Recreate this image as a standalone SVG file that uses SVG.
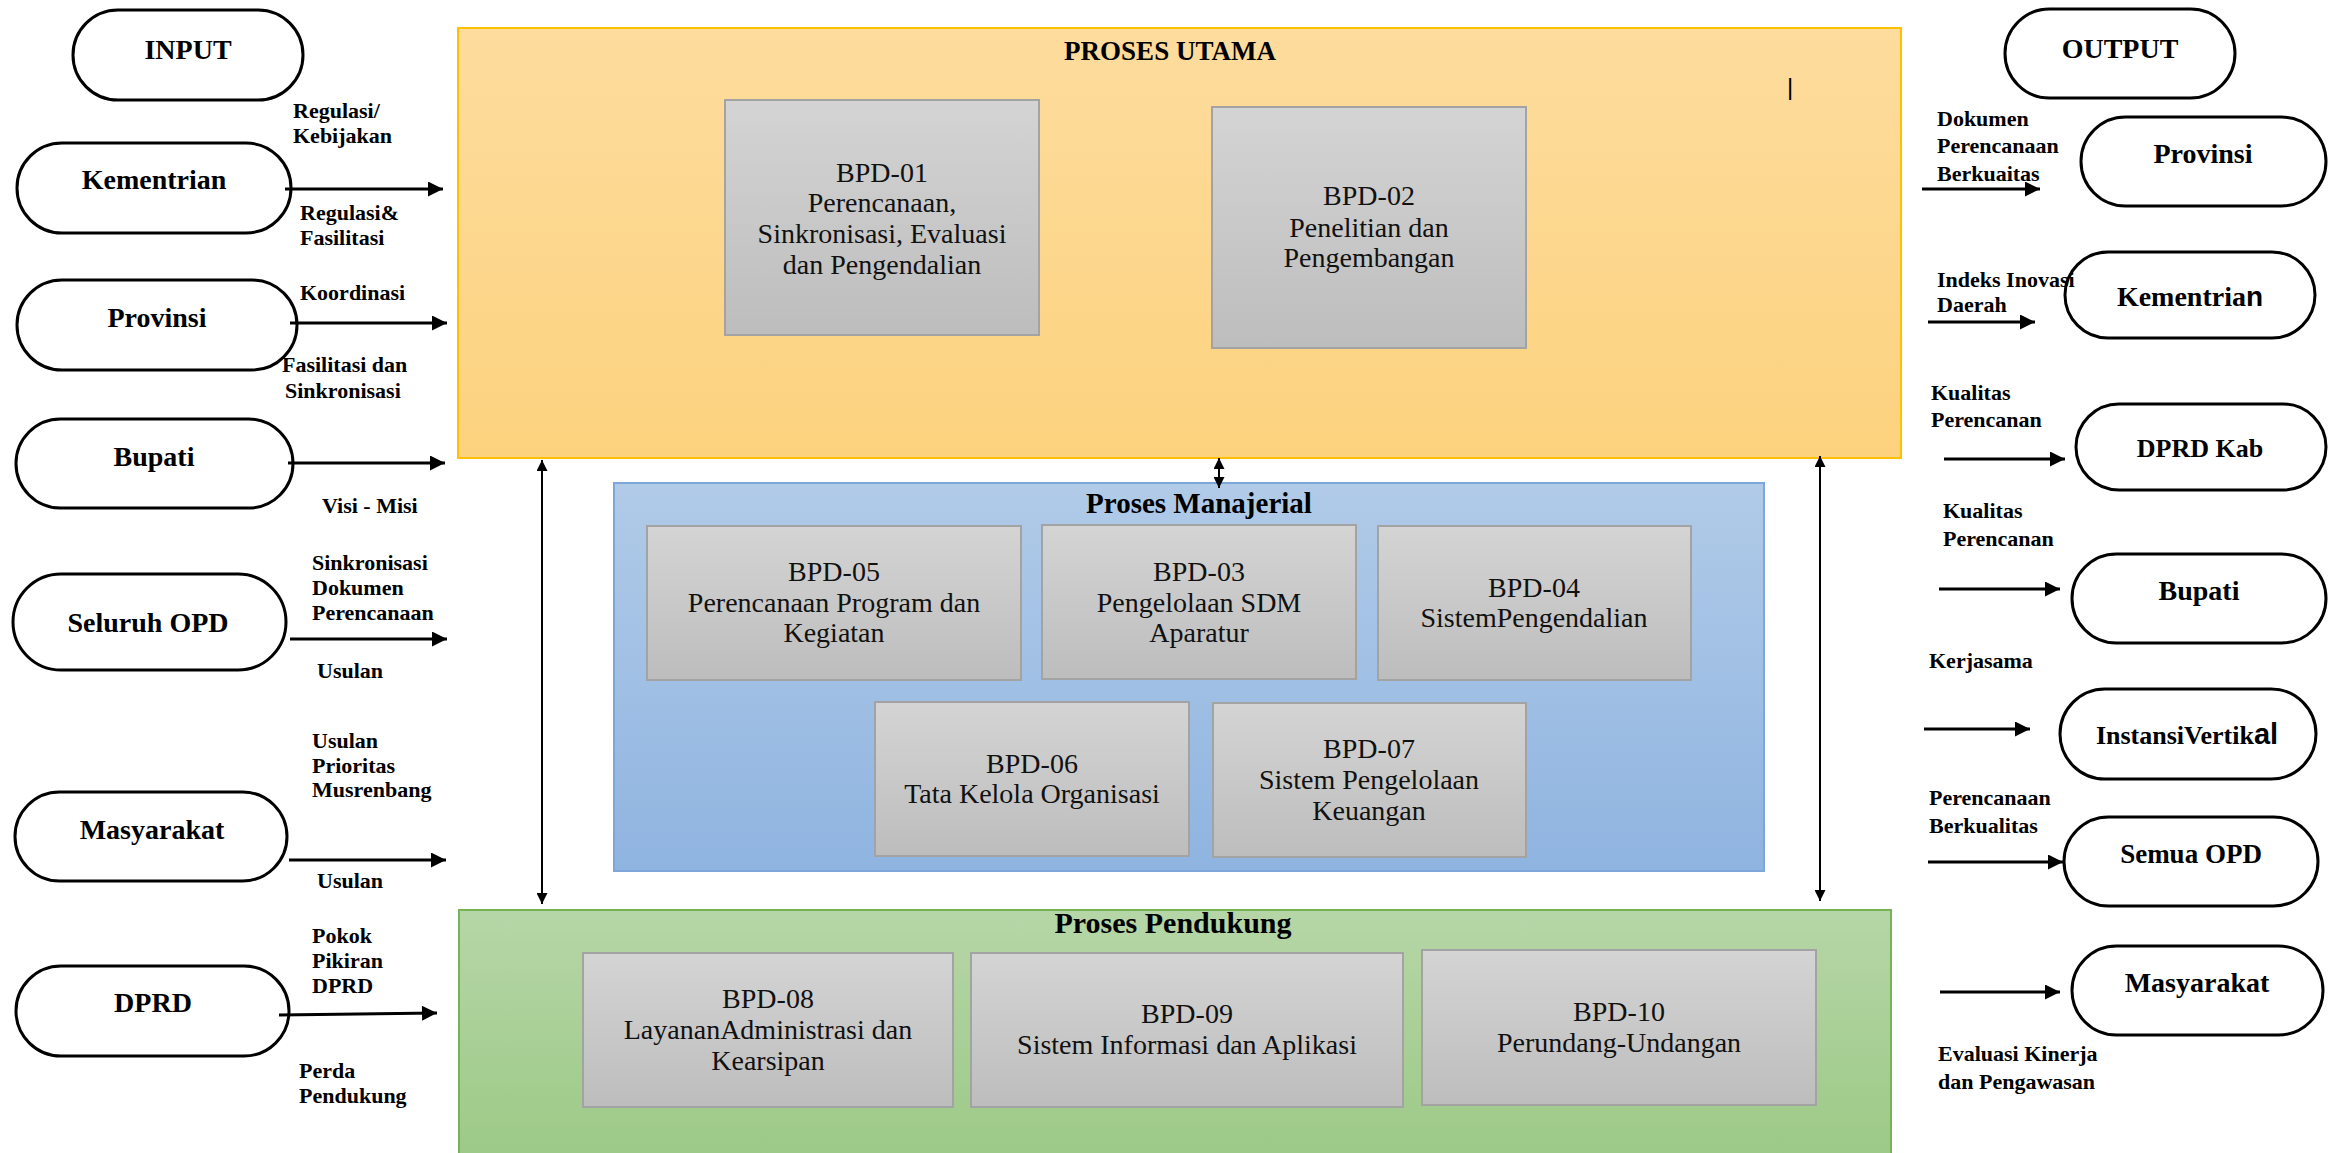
<svg xmlns="http://www.w3.org/2000/svg" width="2329" height="1153" viewBox="0 0 2329 1153">
  <style>
    .pill { fill: #ffffff; stroke: #000000; stroke-width: 3; }
    .pt { font-family: "Liberation Serif", serif; font-weight: bold; font-size: 28px; fill: #000; text-anchor: middle; }
    .lbl { font-family: "Liberation Serif", serif; font-weight: bold; font-size: 22px; fill: #000; }
    .bt { font-family: "Liberation Serif", serif; font-size: 28px; fill: #111; text-anchor: middle; }
    .title { font-family: "Liberation Serif", serif; font-weight: bold; font-size: 29px; fill: #000; text-anchor: middle; }
    .box { fill: url(#gBox); stroke: #a3a3a3; stroke-width: 2; }
    .flow { stroke: #000; stroke-width: 3; fill: none; marker-end: url(#head); }
    .dbl { stroke: #000; stroke-width: 2; fill: none; marker-end: url(#headS); marker-start: url(#headS); }
  </style>
  <defs>
    <linearGradient id="gYellow" x1="0" y1="0" x2="0" y2="1">
      <stop offset="0" stop-color="#fddc9d"/>
      <stop offset="1" stop-color="#fcd27e"/>
    </linearGradient>
    <linearGradient id="gBlue" x1="0" y1="0" x2="0" y2="1">
      <stop offset="0" stop-color="#b1cbe8"/>
      <stop offset="1" stop-color="#8fb4e0"/>
    </linearGradient>
    <linearGradient id="gGreen" x1="0" y1="0" x2="0" y2="1">
      <stop offset="0" stop-color="#b6d6a7"/>
      <stop offset="1" stop-color="#9bc985"/>
    </linearGradient>
    <linearGradient id="gBox" x1="0" y1="0" x2="0" y2="1">
      <stop offset="0" stop-color="#d4d4d4"/>
      <stop offset="1" stop-color="#bdbdbd"/>
    </linearGradient>
    <marker id="head" viewBox="0 0 10 10" refX="10" refY="5" markerUnits="userSpaceOnUse" markerWidth="17" markerHeight="15" orient="auto">
      <path d="M0,0 L10,5 L0,10 z" fill="#000"/>
    </marker>
    <marker id="headS" viewBox="0 0 10 10" refX="10" refY="5" markerUnits="userSpaceOnUse" markerWidth="13" markerHeight="11" orient="auto-start-reverse">
      <path d="M0,0 L10,5 L0,10 z" fill="#000"/>
    </marker>
  </defs>

  <!-- process containers -->
  <g id="proses-utama">
    <rect x="458" y="28" width="1443" height="430" fill="url(#gYellow)" stroke="#ffc000" stroke-width="2"/>
    <text class="title" x="1170" y="60" style="font-size:27px">PROSES UTAMA</text>
    <text x="1790" y="95" style="font-family:'Liberation Sans',sans-serif;font-size:24px;fill:#000" text-anchor="middle">|</text>
  </g>
  <g id="proses-manajerial">
    <rect x="614" y="483" width="1150" height="388" fill="url(#gBlue)" stroke="#7ea6d8" stroke-width="2"/>
    <text class="title" x="1199" y="513">Proses Manajerial</text>
  </g>
  <g id="proses-pendukung">
    <rect x="459" y="910" width="1432" height="260" fill="url(#gGreen)" stroke="#77b255" stroke-width="2"/>
    <text class="title" x="1173" y="933" style="font-size:30px">Proses Pendukung</text>
  </g>

  <!-- BPD process boxes -->
  <g id="bpd-01">
    <rect class="box" x="725" y="100" width="314" height="235"/>
    <text class="bt" x="882" y="182">BPD-01</text>
    <text class="bt" x="882" y="212">Perencanaan,</text>
    <text class="bt" x="882" y="243">Sinkronisasi, Evaluasi</text>
    <text class="bt" x="882" y="274">dan Pengendalian</text>
  </g>
  <g id="bpd-02">
    <rect class="box" x="1212" y="107" width="314" height="241"/>
    <text class="bt" x="1369" y="205">BPD-02</text>
    <text class="bt" x="1369" y="237">Penelitian dan</text>
    <text class="bt" x="1369" y="267">Pengembangan</text>
  </g>
  <g id="bpd-05">
    <rect class="box" x="647" y="526" width="374" height="154"/>
    <text class="bt" x="834" y="581">BPD-05</text>
    <text class="bt" x="834" y="612">Perencanaan Program dan</text>
    <text class="bt" x="834" y="642">Kegiatan</text>
  </g>
  <g id="bpd-03">
    <rect class="box" x="1042" y="525" width="314" height="154"/>
    <text class="bt" x="1199" y="581">BPD-03</text>
    <text class="bt" x="1199" y="612">Pengelolaan SDM</text>
    <text class="bt" x="1199" y="642">Aparatur</text>
  </g>
  <g id="bpd-04">
    <rect class="box" x="1378" y="526" width="313" height="154"/>
    <text class="bt" x="1534" y="597">BPD-04</text>
    <text class="bt" x="1534" y="627">SistemPengendalian</text>
  </g>
  <g id="bpd-06">
    <rect class="box" x="875" y="702" width="314" height="154"/>
    <text class="bt" x="1032" y="773">BPD-06</text>
    <text class="bt" x="1032" y="803">Tata Kelola Organisasi</text>
  </g>
  <g id="bpd-07">
    <rect class="box" x="1213" y="703" width="313" height="154"/>
    <text class="bt" x="1369" y="758">BPD-07</text>
    <text class="bt" x="1369" y="789">Sistem Pengelolaan</text>
    <text class="bt" x="1369" y="820">Keuangan</text>
  </g>
  <g id="bpd-08">
    <rect class="box" x="583" y="953" width="370" height="154"/>
    <text class="bt" x="768" y="1008">BPD-08</text>
    <text class="bt" x="768" y="1039">LayananAdministrasi dan</text>
    <text class="bt" x="768" y="1070">Kearsipan</text>
  </g>
  <g id="bpd-09">
    <rect class="box" x="971" y="953" width="432" height="154"/>
    <text class="bt" x="1187" y="1023">BPD-09</text>
    <text class="bt" x="1187" y="1054">Sistem Informasi dan Aplikasi</text>
  </g>
  <g id="bpd-10">
    <rect class="box" x="1422" y="950" width="394" height="155"/>
    <text class="bt" x="1619" y="1021">BPD-10</text>
    <text class="bt" x="1619" y="1052">Perundang-Undangan</text>
  </g>

  <!-- input side -->
  <g id="in-header">
    <rect class="pill" x="73" y="10" width="230" height="90" rx="45"/>
    <text class="pt" x="188" y="59">INPUT</text>
  </g>
  <g id="in-kementrian">
    <rect class="pill" x="17" y="143" width="274" height="90" rx="45"/>
    <text class="pt" x="154" y="189">Kementrian</text>
  </g>
  <g id="in-provinsi">
    <rect class="pill" x="17" y="280" width="280" height="90" rx="45"/>
    <text class="pt" x="157" y="327">Provinsi</text>
  </g>
  <g id="in-bupati">
    <rect class="pill" x="16" y="419" width="277" height="89" rx="44.5"/>
    <text class="pt" x="154" y="466">Bupati</text>
  </g>
  <g id="in-opd">
    <rect class="pill" x="13" y="574" width="273" height="96" rx="48"/>
    <text class="pt" x="148" y="632">Seluruh OPD</text>
  </g>
  <g id="in-masyarakat">
    <rect class="pill" x="15" y="792" width="272" height="89" rx="44.5"/>
    <text class="pt" x="152" y="839">Masyarakat</text>
  </g>
  <g id="in-dprd">
    <rect class="pill" x="16" y="966" width="273" height="90" rx="45"/>
    <text class="pt" x="153" y="1012">DPRD</text>
  </g>

  <!-- output side -->
  <g id="out-header">
    <rect class="pill" x="2005" y="9" width="230" height="89" rx="44.5"/>
    <text class="pt" x="2120" y="58">OUTPUT</text>
  </g>
  <g id="out-provinsi">
    <rect class="pill" x="2081" y="117" width="245" height="89" rx="44.5"/>
    <text class="pt" x="2203" y="163">Provinsi</text>
  </g>
  <g id="out-kementrian">
    <rect class="pill" x="2065" y="252" width="250" height="86" rx="43"/>
    <text class="pt" x="2190" y="306">Kementria<tspan style="font-family:'Liberation Sans',sans-serif">n</tspan></text>
  </g>
  <g id="out-dprd-kab">
    <rect class="pill" x="2076" y="404" width="250" height="86" rx="43"/>
    <text class="pt" x="2200" y="457" style="font-size:26px">DPRD Kab</text>
  </g>
  <g id="out-bupati">
    <rect class="pill" x="2072" y="554" width="254" height="89" rx="44.5"/>
    <text class="pt" x="2199" y="600">Bupati</text>
  </g>
  <g id="out-instansi">
    <rect class="pill" x="2060" y="689" width="256" height="90" rx="45"/>
    <text class="pt" x="2187" y="744" style="font-size:26px">InstansiVertik<tspan style="font-family:'Liberation Sans',sans-serif;font-size:29px">al</tspan></text>
  </g>
  <g id="out-opd">
    <rect class="pill" x="2064" y="817" width="254" height="89" rx="44.5"/>
    <text class="pt" x="2191" y="863" style="font-size:27px">Semua OPD</text>
  </g>
  <g id="out-masyarakat">
    <rect class="pill" x="2072" y="946" width="251" height="89" rx="44.5"/>
    <text class="pt" x="2197" y="992">Masyarakat</text>
  </g>

  <!-- connectors -->
  <g id="connectors">
    <line class="flow" x1="285" y1="189" x2="443" y2="189"/>
    <line class="flow" x1="290" y1="323" x2="447" y2="323"/>
    <line class="flow" x1="288" y1="463" x2="445" y2="463"/>
    <line class="flow" x1="290" y1="639" x2="447" y2="639"/>
    <line class="flow" x1="289" y1="860" x2="446" y2="860"/>
    <line class="flow" x1="279" y1="1015" x2="437" y2="1013"/>

    <line class="flow" x1="1922" y1="189" x2="2040" y2="189"/>
    <line class="flow" x1="1928" y1="322" x2="2035" y2="322"/>
    <line class="flow" x1="1944" y1="459" x2="2065" y2="459"/>
    <line class="flow" x1="1939" y1="589" x2="2060" y2="589"/>
    <line class="flow" x1="1924" y1="729" x2="2030" y2="729"/>
    <line class="flow" x1="1928" y1="862" x2="2063" y2="862"/>
    <line class="flow" x1="1940" y1="992" x2="2060" y2="992"/>

    <line class="dbl" x1="542" y1="460" x2="542" y2="904"/>
    <line class="dbl" x1="1219" y1="458" x2="1219" y2="488"/>
    <line class="dbl" x1="1820" y1="456" x2="1820" y2="901"/>
  </g>

  <!-- connector labels -->
  <g id="labels">
    <text class="lbl" x="293" y="118">Regulasi/</text>
    <text class="lbl" x="293" y="143">Kebijakan</text>
    <text class="lbl" x="300" y="220">Regulasi&amp;</text>
    <text class="lbl" x="300" y="245">Fasilitasi</text>
    <text class="lbl" x="300" y="300">Koordinasi</text>
    <text class="lbl" x="282" y="372">Fasilitasi dan</text>
    <text class="lbl" x="285" y="398">Sinkronisasi</text>
    <text class="lbl" x="322" y="513">Visi - Misi</text>
    <text class="lbl" x="312" y="570">Sinkronisasi</text>
    <text class="lbl" x="312" y="595">Dokumen</text>
    <text class="lbl" x="312" y="620">Perencanaan</text>
    <text class="lbl" x="317" y="678">Usulan</text>
    <text class="lbl" x="312" y="748">Usulan</text>
    <text class="lbl" x="312" y="773">Prioritas</text>
    <text class="lbl" x="312" y="797">Musrenbang</text>
    <text class="lbl" x="317" y="888">Usulan</text>
    <text class="lbl" x="312" y="943">Pokok</text>
    <text class="lbl" x="312" y="968">Pikiran</text>
    <text class="lbl" x="312" y="993">DPRD</text>
    <text class="lbl" x="299" y="1078">Perda</text>
    <text class="lbl" x="299" y="1103">Pendukung</text>

    <text class="lbl" x="1937" y="126">Dokumen</text>
    <text class="lbl" x="1937" y="153">Perencanaan</text>
    <text class="lbl" x="1937" y="181">Berkuaitas</text>
    <text class="lbl" x="1937" y="287">Indeks Inovasi</text>
    <text class="lbl" x="1937" y="312">Daerah</text>
    <text class="lbl" x="1931" y="400">Kualitas</text>
    <text class="lbl" x="1931" y="427">Perencanan</text>
    <text class="lbl" x="1943" y="518">Kualitas</text>
    <text class="lbl" x="1943" y="546">Perencanan</text>
    <text class="lbl" x="1929" y="668">Kerjasama</text>
    <text class="lbl" x="1929" y="805">Perencanaan</text>
    <text class="lbl" x="1929" y="833">Berkualitas</text>
    <text class="lbl" x="1938" y="1061">Evaluasi Kinerja</text>
    <text class="lbl" x="1938" y="1089">dan Pengawasan</text>
  </g>
</svg>
